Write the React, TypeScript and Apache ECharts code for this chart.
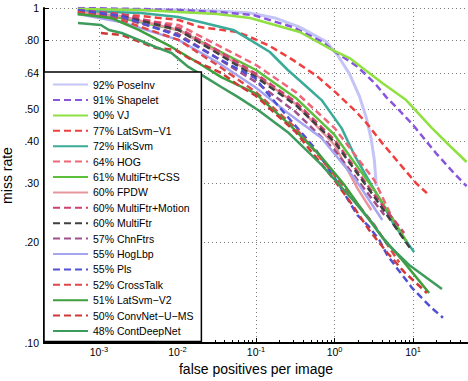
import React, { useEffect, useRef } from 'react';
import * as echarts from 'echarts';

// [false positives per image, miss rate]
const poseInv = [[5.4e-4,0.993],[3.4e-3,0.986],[0.0103,0.986],[0.032,0.98],[0.084,0.966],[0.174,0.934],[0.36,0.877],[0.79,0.792],[1.09,0.724],[1.55,0.636],[2.07,0.546],[2.54,0.47],[2.94,0.404],[3.21,0.352],[3.4,0.294]];
const shapelet = [[5.4e-4,1.0],[3.4e-3,0.993],[0.0103,0.986],[0.032,0.973],[0.092,0.953],[0.294,0.877],[0.705,0.792],[0.944,0.749],[1.34,0.709],[1.9,0.671],[2.54,0.631],[3.4,0.589],[4.55,0.542],[6.09,0.506],[9.71,0.451],[19.5,0.369],[35,0.317],[48,0.294]];
const vj = [[5.4e-4,0.993],[3.4e-3,0.986],[0.0103,0.973],[0.032,0.96],[0.084,0.934],[0.36,0.848],[0.944,0.749],[1.55,0.709],[4.05,0.597],[8.15,0.531],[17.4,0.438],[28.6,0.39],[48,0.347]];
const latSvmV1 = [[5.4e-4,0.973],[3.4e-3,0.947],[0.0103,0.921],[0.0195,0.877],[0.0574,0.848],[0.084,0.819],[0.15,0.77],[0.294,0.7],[0.592,0.627],[1.06,0.557],[1.9,0.489],[2.54,0.454],[4.05,0.395],[6.65,0.344],[10.9,0.3],[15,0.28]];
const hikSvm = [[5.4e-4,0.98],[3.4e-3,0.966],[0.0103,0.94],[0.0195,0.908],[0.0512,0.86],[0.084,0.803],[0.15,0.739],[0.254,0.653],[0.417,0.589],[0.684,0.531],[1.23,0.438],[1.79,0.364],[2.62,0.311],[3.94,0.264],[5.75,0.225],[10.3,0.187]];
const hog = [[5.4e-4,0.96],[1.9e-3,0.94],[0.0103,0.89],[0.032,0.776],[0.1,0.676],[0.321,0.561],[1,0.438],[3.21,0.306],[5.75,0.23]];
const multiFtrCss = [[5.4e-4,0.96],[1.9e-3,0.934],[0.0103,0.86],[0.032,0.749],[0.1,0.653],[0.321,0.539],[1,0.418],[3.21,0.286],[8.39,0.2]];
const fpdw = [[5.4e-4,0.973],[1.9e-3,0.947],[0.0103,0.86],[0.032,0.739],[0.1,0.631],[0.321,0.517],[1,0.39],[1.95,0.29],[2.94,0.249]];
const multiFtrMotion = [[5.4e-4,0.986],[1.9e-3,0.96],[0.0103,0.872],[0.032,0.749],[0.1,0.636],[0.321,0.524],[1,0.404],[3.21,0.277],[7.69,0.213]];
const multiFtr = [[5.4e-4,0.973],[1.9e-3,0.947],[0.0103,0.86],[0.032,0.734],[0.1,0.622],[0.321,0.513],[1,0.398],[3.21,0.273],[9.43,0.19]];
const chnFtrs = [[5.4e-4,0.966],[1.9e-3,0.934],[0.0103,0.836],[0.032,0.709],[0.1,0.601],[0.321,0.489],[1,0.377],[4.3,0.241]];
const hogLbp = [[5.4e-4,0.96],[1.9e-3,0.908],[0.0103,0.803],[0.032,0.69],[0.097,0.581],[0.254,0.486],[0.684,0.409],[1.79,0.311],[4.05,0.233]];
const pls = [[5.4e-4,0.986],[1.9e-3,0.947],[0.0103,0.825],[0.032,0.709],[0.097,0.618],[0.174,0.524],[0.558,0.382],[1.09,0.302],[1.95,0.241],[2.77,0.222],[3.71,0.203],[4.69,0.183],[6.27,0.167],[9.71,0.146],[13,0.136],[17.4,0.127],[24,0.119]];
const crossTalk = [[5.4e-4,0.973],[1.9e-3,0.921],[0.0103,0.803],[0.032,0.676],[0.1,0.561],[0.321,0.438],[1,0.317],[3.21,0.225],[6.65,0.174]];
const latSvmV2 = [[5.4e-4,0.96],[1.42e-3,0.934],[3.21e-3,0.86],[8.4e-3,0.765],[0.0185,0.685],[0.0361,0.622],[0.097,0.557],[0.269,0.448],[0.646,0.364],[1.34,0.296],[2.4,0.244],[4.05,0.207],[7.26,0.177],[10.3,0.16],[16,0.141]];
const convNet = [[1.06e-3,0.842],[1.95e-3,0.831],[5.27e-3,0.76],[9.44e-3,0.749],[0.0138,0.709],[0.0361,0.64],[0.0592,0.589],[0.1,0.546],[0.321,0.426],[1,0.306],[1.69,0.258],[2.77,0.217],[4.69,0.186],[7.69,0.163],[15,0.141]];
const contDeepNet = [[5.42e-4,0.902],[1.06e-3,0.89],[1.34e-3,0.86],[1.95e-3,0.842],[3.21e-3,0.803],[5.27e-3,0.765],[8.4e-3,0.734],[0.0138,0.667],[0.0226,0.622],[0.0361,0.581],[0.0592,0.542],[0.106,0.496],[0.254,0.426],[0.684,0.34],[1.79,0.264],[2.94,0.23],[4.55,0.199],[8.9,0.171],[23.3,0.145]];

const curves = [poseInv, shapelet, vj, latSvmV1, hikSvm, hog, multiFtrCss, fpdw, multiFtrMotion, multiFtr, chnFtrs, hogLbp, pls, crossTalk, latSvmV2, convNet, contDeepNet];
const names = ['92% PoseInv', '91% Shapelet', '90% VJ', '77% LatSvm\u2212V1', '72% HikSvm', '64% HOG', '61% MultiFtr+CSS', '60% FPDW', '60% MultiFtr+Motion', '60% MultiFtr', '57% ChnFtrs', '55% HogLbp', '55% Pls', '52% CrossTalk', '51% LatSvm\u2212V2', '50% ConvNet\u2212U\u2212MS', '48% ContDeepNet'];
const colors = ['#c4c4f6', '#8855dd', '#8fe040', '#ef3f3f', '#3aab98', '#ee6677', '#5cc03c', '#e8969e', '#d04070', '#404040', '#a0508a', '#a6a6f0', '#5050d5', '#e04848', '#3f9f3f', '#d03838', '#3d9b5c'];
const dashed = [false, true, false, true, false, true, false, false, true, true, true, false, true, true, false, true, false];

const xTicks = [1e-3, 1e-2, 1e-1, 1, 10];
const yTicks = [0.1, 0.2, 0.3, 0.4, 0.5, 0.64, 0.8, 1];

export default function App() {
  const ref = useRef<HTMLDivElement>(null);
  useEffect(() => {
    const chart = echarts.init(ref.current!, null, { renderer: 'svg' });
    const font = 'Liberation Sans, Arial, Helvetica, sans-serif';
    const minor: number[] = [];
    for (let e = -4; e <= 1; e++) {
      for (let m = 2; m <= 9; m++) {
        const v = m * Math.pow(10, e);
        if (v >= 2e-4 && v <= 50) minor.push(v);
      }
    }
    const grid = { type: [1, 3], color: '#7a7a7a', width: 1 };
    chart.setOption({
      animation: false,
      grid: { left: 44, right: 0, top: 8, bottom: 38, containLabel: false, outerBoundsMode: 'none' },
      legend: {
        orient: 'vertical', left: 44, top: 72,
        itemWidth: 35, itemHeight: 14, itemGap: 4.2,
        padding: [7, 8, 5, 8],
        backgroundColor: '#fff', borderColor: '#000', borderWidth: 1.5,
        textStyle: { fontSize: 10.5, fontFamily: font, color: '#000' },
        itemStyle: { opacity: 0 },
        data: names, selectedMode: false,
      },
      xAxis: [
        {
          type: 'log', logBase: 10, min: 2e-4, max: 50,
          name: 'false positives per image', nameLocation: 'middle', nameGap: 18,
          nameTextStyle: { fontSize: 14, fontFamily: font, color: '#000' },
          axisLine: { lineStyle: { color: '#000', width: 2 } },
          axisTick: { inside: true, length: 5, customValues: xTicks, lineStyle: { color: '#000' } },
          axisLabel: {
            customValues: xTicks, margin: 2,
            formatter: (v: number) => `{b|10}{s|${Math.round(Math.log10(v))}}`,
            rich: {
              b: { fontSize: 10.5, fontFamily: font, color: '#000', verticalAlign: 'bottom', lineHeight: 12, padding: [5, 0, 0, 0] },
              s: { fontSize: 7.5, fontFamily: font, color: '#000', verticalAlign: 'top', lineHeight: 9 },
            },
          },
          splitLine: { show: true, lineStyle: grid },
        },
        {
          type: 'log', logBase: 10, min: 2e-4, max: 50, position: 'bottom',
          axisLine: { show: false }, axisLabel: { show: false }, splitLine: { show: false },
          axisTick: { inside: true, length: 3, customValues: minor, lineStyle: { color: '#000' } },
        },
      ],
      yAxis: {
        type: 'log', logBase: 10, min: 0.1, max: 1,
        name: 'miss rate', nameLocation: 'middle', nameGap: 26, nameRotate: 90,
        nameTextStyle: { fontSize: 14, fontFamily: font, color: '#000' },
        axisLine: { lineStyle: { color: '#000', width: 2 } },
        axisTick: { inside: true, length: 5, customValues: yTicks, lineStyle: { color: '#000' } },
        axisLabel: {
          customValues: yTicks, margin: 5, fontSize: 10.5, fontFamily: font, color: '#000',
          formatter: (v: number) => (v >= 0.999 ? '1' : '.' + String(Math.round(v * 100)).padStart(2, '0')),
        },
        splitLine: { show: true, lineStyle: grid },
      },
      series: curves.map((d, i) => ({
        type: 'line', name: names[i], data: d, xAxisIndex: 0, yAxisIndex: 0,
        symbol: 'none', showSymbol: false, silent: true, clip: true,
        lineStyle: { color: colors[i], width: i === 0 ? 3 : 2.5, type: dashed[i] ? [7, 4] : 'solid' },
        itemStyle: { color: colors[i], opacity: 0 },
      })),
    });
    return () => chart.dispose();
  }, []);
  return <div ref={ref} style={{ position: 'absolute', left: 0, top: 0, width: 468, height: 381 }} />;
}
